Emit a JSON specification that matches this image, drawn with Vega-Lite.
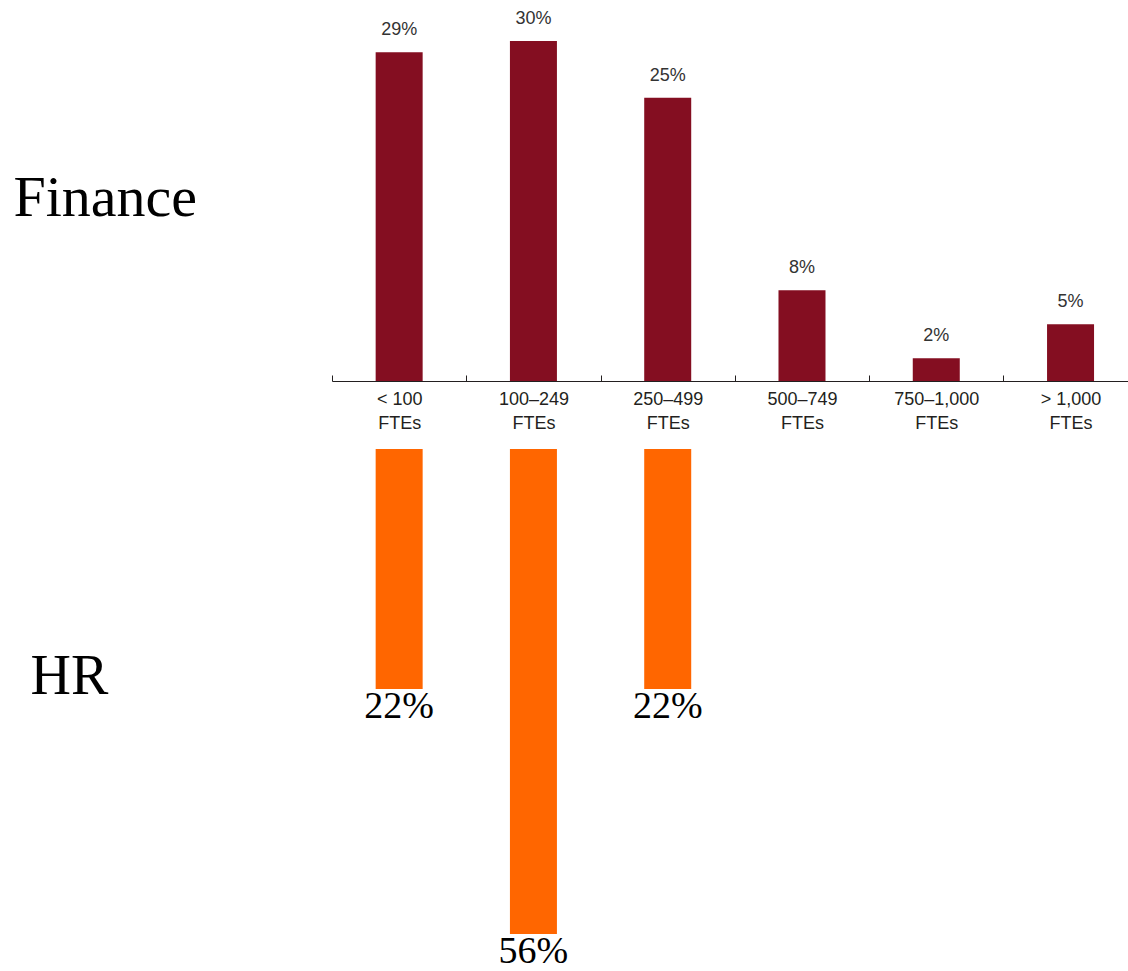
{
  "$schema": "https://vega.github.io/schema/vega-lite/v6.json",
  "padding": {"left": 13, "top": 10, "right": 0, "bottom": 0},
  "bounds": "flush",
  "spacing": 68,
  "config": {"view": {"stroke": null}, "font": "Liberation Sans"},
  "datasets": {
    "finance": [
      {"size": "< 100", "pct": 0.29},
      {"size": "100–249", "pct": 0.30},
      {"size": "250–499", "pct": 0.25},
      {"size": "500–749", "pct": 0.08},
      {"size": "750–1,000", "pct": 0.02},
      {"size": "> 1,000", "pct": 0.05}
    ],
    "hr": [
      {"size": "< 100", "pct": 0.22},
      {"size": "100–249", "pct": 0.56},
      {"size": "250–499", "pct": 0.22}
    ]
  },
  "vconcat": [
    {
      "width": 796,
      "height": 340,
      "data": {"name": "finance"},
      "encoding": {
        "x": {
          "field": "size",
          "type": "nominal",
          "scale": {
            "domain": ["< 100", "100–249", "250–499", "500–749", "750–1,000", "> 1,000"],
            "paddingInner": 0.65,
            "paddingOuter": 0.289,
            "align": 0.5625
          },
          "axis": {
            "title": null,
            "labelAngle": 0,
            "labelExpr": "datum.label ? [datum.label, 'FTEs'] : ''",
            "labelFont": "Liberation Sans",
            "labelFontSize": 18,
            "labelLineHeight": 24,
            "labelColor": "#231f20",
            "labelBaseline": "top",
            "labelPadding": 15,
            "tickSize": -6,
            "tickOffset": -67.14,
            "labelOffset": 67.14,
            "tickColor": "#231f20",
            "domainColor": "#231f20"
          }
        },
        "y": {
          "field": "pct",
          "type": "quantitative",
          "scale": {"domain": [0, 0.30]},
          "axis": {
            "title": "Finance",
            "domain": false,
            "ticks": false,
            "labels": false,
            "grid": false,
            "titleAngle": 0,
            "titleAlign": "left",
            "titleBaseline": "alphabetic",
            "titleX": -319,
            "titleY": 174,
            "titleFont": "Liberation Serif",
            "titleFontSize": 58,
            "titleFontWeight": "normal",
            "titleColor": "#000000"
          }
        }
      },
      "layer": [
        {"mark": {"type": "bar", "color": "#840e21"}},
        {
          "mark": {"type": "text", "dy": -22, "baseline": "middle", "fontSize": 18, "color": "#333333", "font": "Liberation Sans"},
          "encoding": {"text": {"field": "pct", "type": "quantitative", "format": ".0%"}}
        }
      ]
    },
    {
      "width": 796,
      "height": 485,
      "data": {"name": "hr"},
      "encoding": {
        "x": {
          "field": "size",
          "type": "nominal",
          "scale": {
            "domain": ["< 100", "100–249", "250–499", "500–749", "750–1,000", "> 1,000"],
            "paddingInner": 0.65,
            "paddingOuter": 0.289,
            "align": 0.5625
          },
          "axis": null
        },
        "y": {
          "field": "pct",
          "type": "quantitative",
          "scale": {"domain": [-0.113, 0.56], "reverse": true},
          "axis": {
            "title": "HR",
            "domain": false,
            "ticks": false,
            "labels": false,
            "grid": false,
            "titleAngle": 0,
            "titleAlign": "left",
            "titleBaseline": "alphabetic",
            "titleX": -302,
            "titleY": 244,
            "titleFont": "Liberation Serif",
            "titleFontSize": 56,
            "titleFontWeight": "normal",
            "titleColor": "#000000"
          }
        }
      },
      "layer": [
        {
          "mark": {"type": "bar", "color": "#ff6600"},
          "encoding": {"y2": {"datum": -0.113}}
        },
        {
          "mark": {"type": "text", "dy": 29, "baseline": "alphabetic", "fontSize": 38, "color": "#000000", "font": "Liberation Serif"},
          "encoding": {"text": {"field": "pct", "type": "quantitative", "format": ".0%"}}
        }
      ]
    }
  ]
}
